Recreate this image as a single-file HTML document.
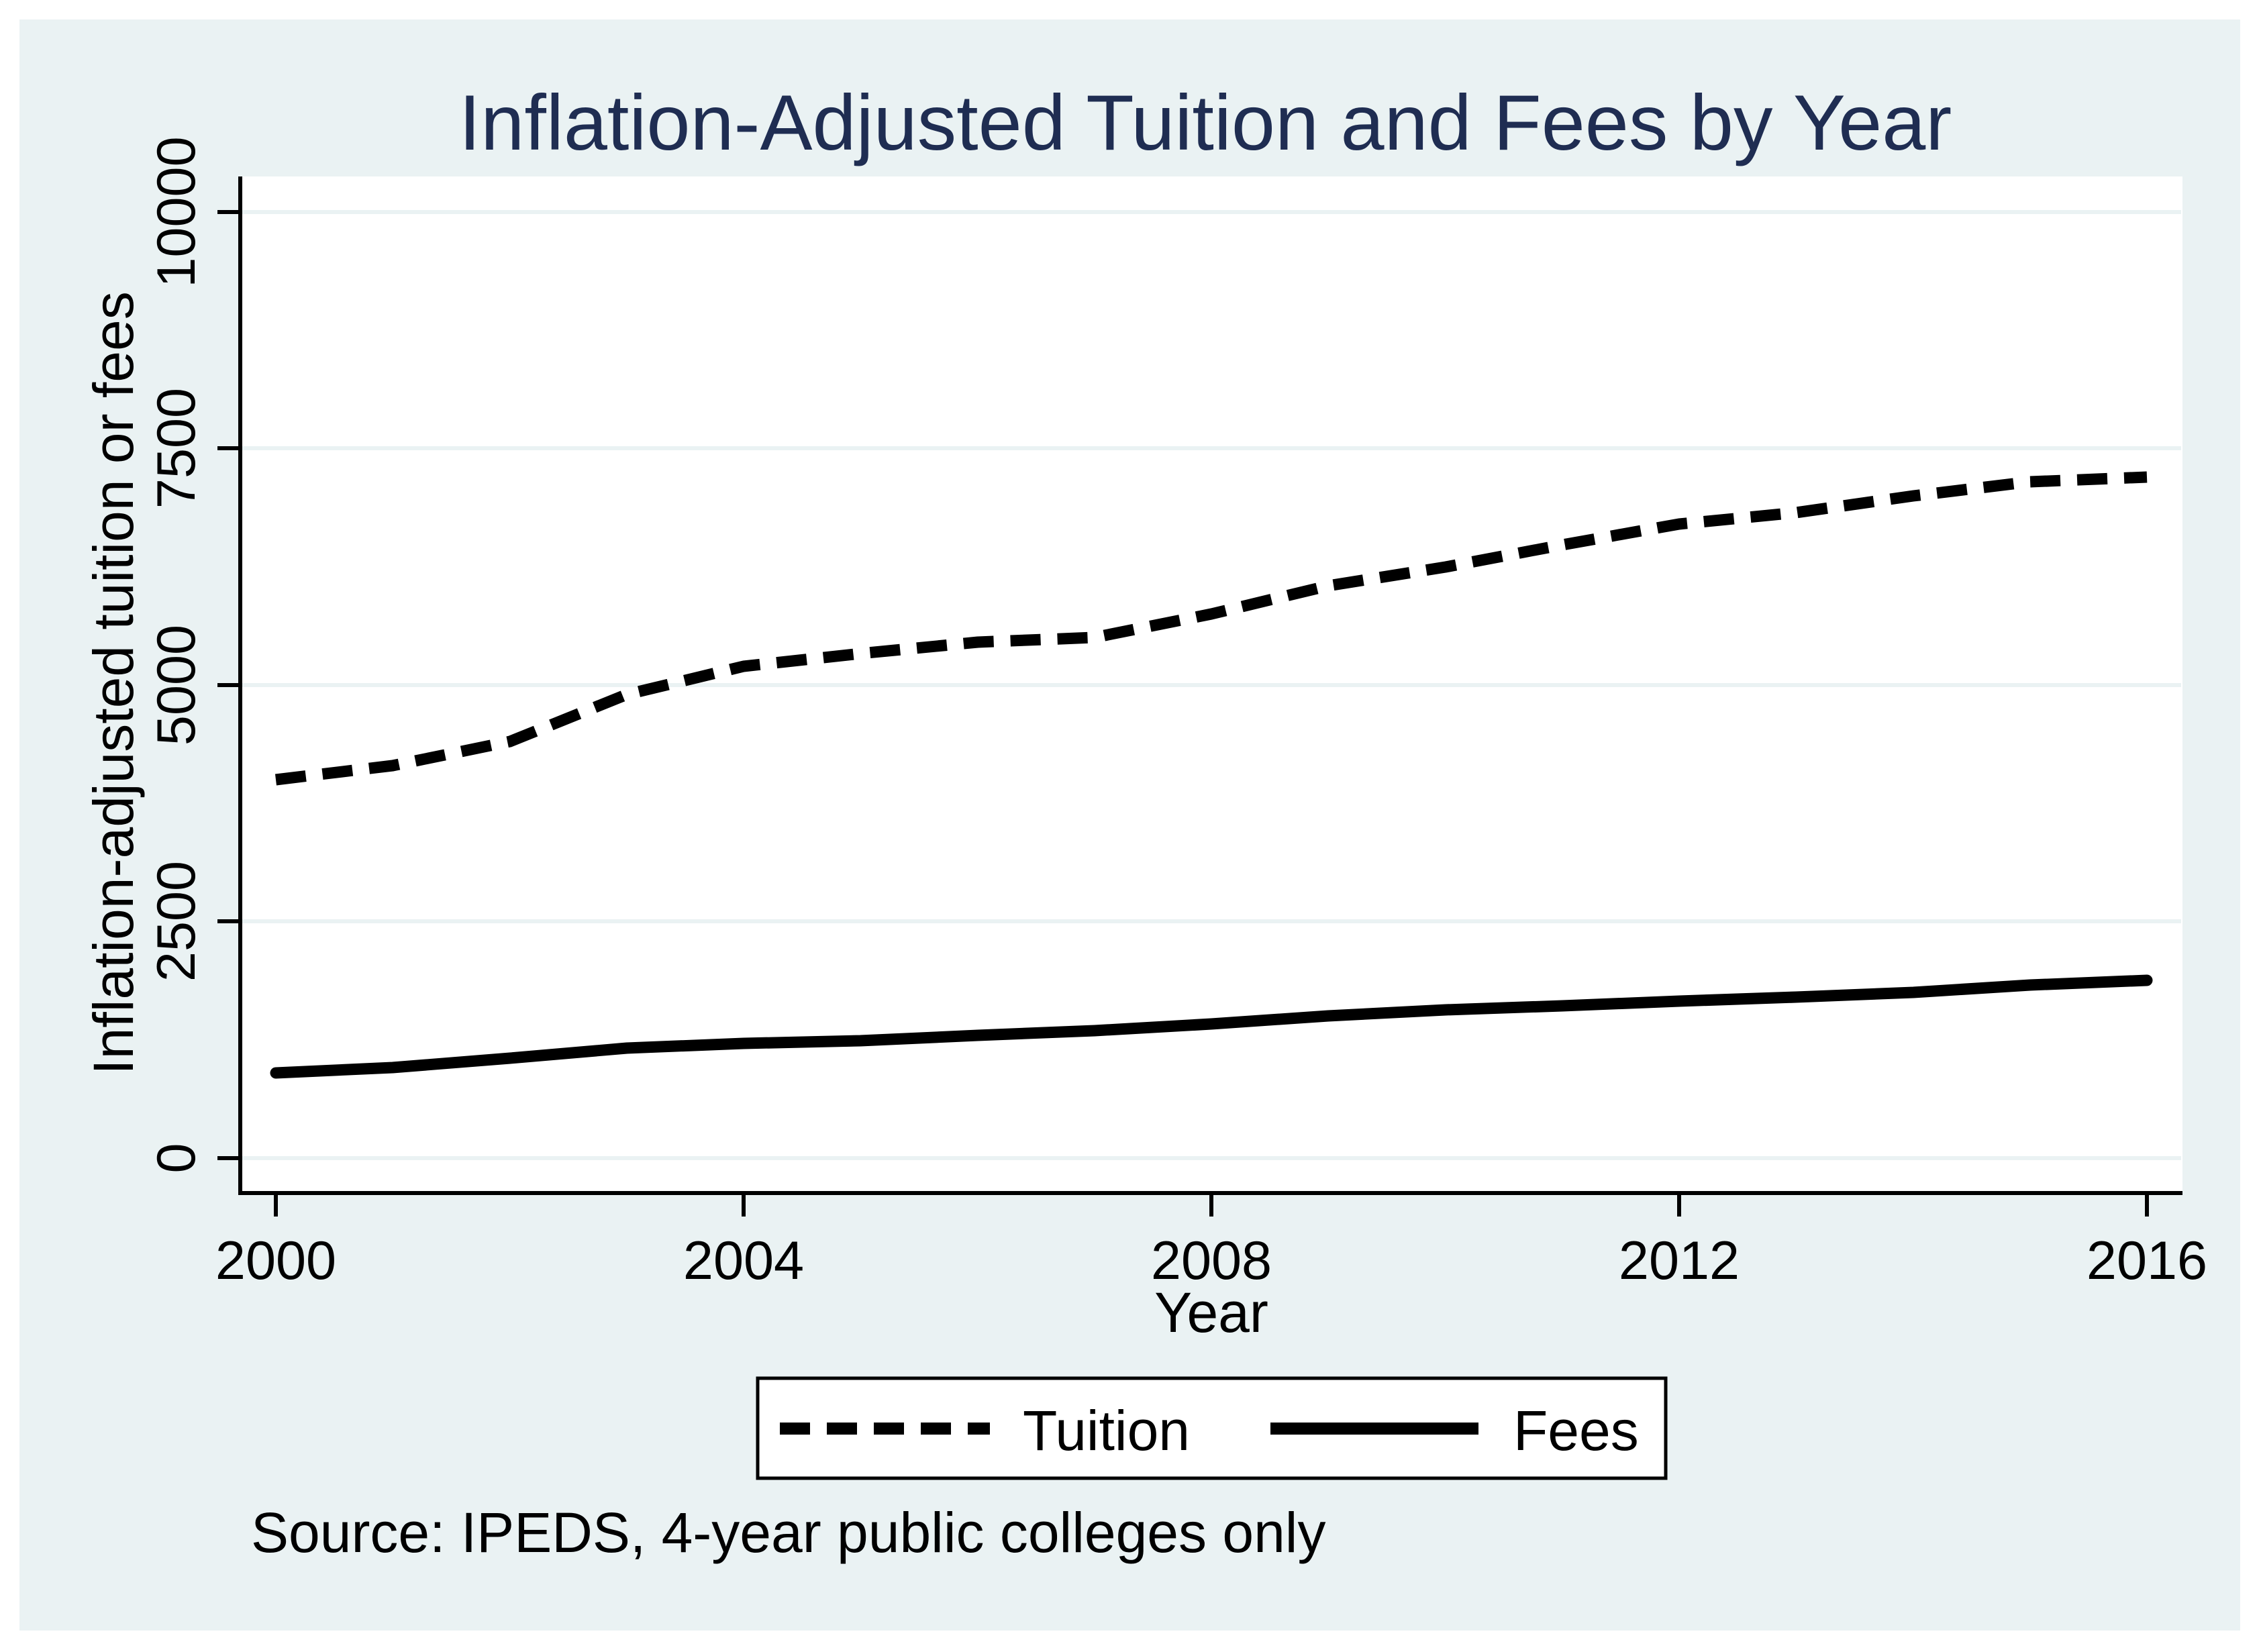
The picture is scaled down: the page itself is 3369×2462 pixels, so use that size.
<!DOCTYPE html>
<html><head><meta charset="utf-8"><style>html,body{margin:0;padding:0;background:#fff}svg{display:block}</style></head>
<body>
<svg width="3369" height="2462" viewBox="0 0 3369 2462" xmlns="http://www.w3.org/2000/svg" font-family="Liberation Sans, Arial, sans-serif">
<rect x="0" y="0" width="3369" height="2462" fill="#ffffff"/>
<rect x="29" y="29" width="3309" height="2401" fill="#eaf2f3"/>
<rect x="358" y="263" width="2894" height="1515" fill="#ffffff"/>
<g stroke="#eaf2f3" stroke-width="6">
<line x1="360" y1="1726" x2="3250" y2="1726"/>
<line x1="360" y1="1373" x2="3250" y2="1373"/>
<line x1="360" y1="1021" x2="3250" y2="1021"/>
<line x1="360" y1="668" x2="3250" y2="668"/>
<line x1="360" y1="316" x2="3250" y2="316"/>
</g>
<g stroke="#000" stroke-width="6">
<line x1="358" y1="263" x2="358" y2="1781"/>
<line x1="355" y1="1778" x2="3252" y2="1778"/>
<line x1="324" y1="1726" x2="358" y2="1726"/>
<line x1="324" y1="1373" x2="358" y2="1373"/>
<line x1="324" y1="1021" x2="358" y2="1021"/>
<line x1="324" y1="668" x2="358" y2="668"/>
<line x1="324" y1="316" x2="358" y2="316"/>
<line x1="411" y1="1780" x2="411" y2="1813"/>
<line x1="1108" y1="1780" x2="1108" y2="1813"/>
<line x1="1805" y1="1780" x2="1805" y2="1813"/>
<line x1="2502" y1="1780" x2="2502" y2="1813"/>
<line x1="3199" y1="1780" x2="3199" y2="1813"/>
</g>
<g font-size="81" fill="#000" text-anchor="middle">
<text transform="translate(290,1726) rotate(-90)">0</text>
<text transform="translate(290,1373) rotate(-90)">2500</text>
<text transform="translate(290,1021) rotate(-90)">5000</text>
<text transform="translate(290,668) rotate(-90)">7500</text>
<text transform="translate(290,316) rotate(-90)">10000</text>
<text x="411" y="1906">2000</text>
<text x="1108" y="1906">2004</text>
<text x="1805" y="1906">2008</text>
<text x="2502" y="1906">2012</text>
<text x="3199" y="1906">2016</text>
<text x="1805" y="1985" font-size="84">Year</text>
<text transform="translate(198,1018) rotate(-90)" font-size="84">Inflation-adjusted tuition or fees</text>
</g>
<text x="1796" y="223" font-size="117" fill="#1f2d52" text-anchor="middle">Inflation-Adjusted Tuition and Fees by Year</text>
<polyline fill="none" stroke="#000" stroke-width="17" stroke-dasharray="45,25" stroke-linejoin="round"
points="411,1162 585,1141 760,1105 934,1035 1108,993 1282,974 1457,957 1631,950 1805,915 1979,873 2154,845 2328,812 2502,781 2676,764 2851,739 3025,718 3199,711"/>
<polyline fill="none" stroke="#000" stroke-width="17" stroke-linejoin="round" stroke-linecap="round"
points="411,1599 585,1591 760,1577 934,1562 1108,1555 1282,1551 1457,1543 1631,1536 1805,1526 1979,1514 2154,1505 2328,1499 2502,1492 2676,1486 2851,1479 3025,1468 3199,1461"/>
<rect x="1129" y="2054" width="1353" height="149" fill="#fff" stroke="#000" stroke-width="5"/>
<line x1="1162" y1="2129" x2="1475" y2="2129" stroke="#000" stroke-width="18" stroke-dasharray="45,25"/>
<line x1="1893" y1="2129" x2="2203" y2="2129" stroke="#000" stroke-width="18"/>
<text x="1524" y="2161" font-size="84" fill="#000">Tuition</text>
<text x="2255" y="2161" font-size="84" fill="#000">Fees</text>
<text x="374" y="2313" font-size="84" fill="#000">Source: IPEDS, 4-year public colleges only</text>
</svg>
</body></html>
